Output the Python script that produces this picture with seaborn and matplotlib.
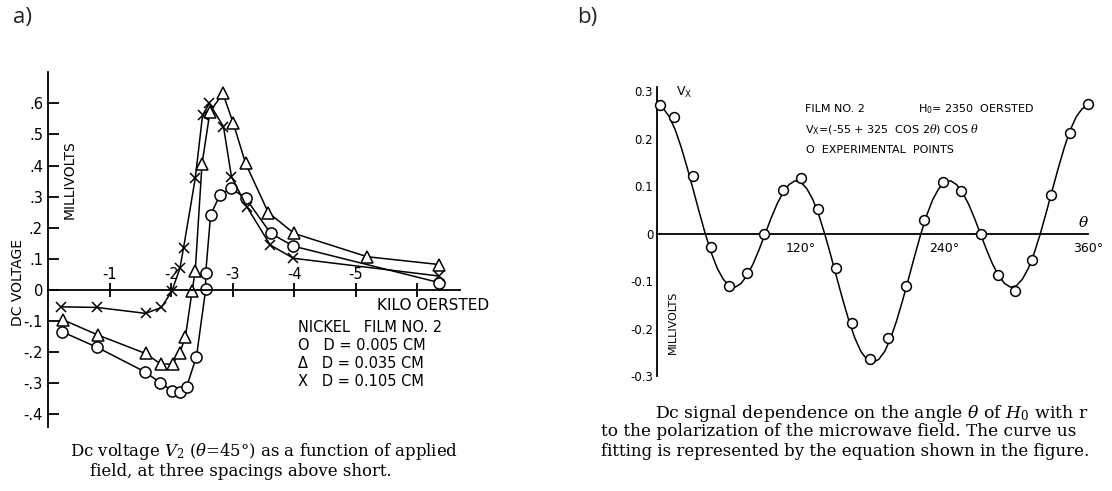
import matplotlib
matplotlib.use("Agg")
import matplotlib.pyplot as plt
import numpy as np
import pandas as pd
import seaborn as sns

# panel a: dc voltage vs applied field (kilo oersted), three spacings
field_d005 = [-0.22, -0.79, -1.57, -1.82, -2.01, -2.14, -2.25, -2.41, -2.56, -2.56,
              -2.64, -2.79, -2.98, -3.21, -3.62, -3.99, -6.36]
volt_d005 = [-0.134, -0.184, -0.263, -0.298, -0.324, -0.327, -0.311, -0.214, 0.002, 0.054,
             0.241, 0.305, 0.327, 0.295, 0.182, 0.141, 0.024]

field_d035 = [-0.24, -0.81, -1.58, -1.83, -2.02, -2.14, -2.23, -2.34, -2.39, -2.50,
              -2.63, -2.84, -3.01, -3.21, -3.58, -4.00, -5.19, -6.36]
volt_d035 = [-0.096, -0.145, -0.204, -0.238, -0.238, -0.201, -0.150, -0.002, 0.062, 0.405,
             0.573, 0.632, 0.536, 0.407, 0.249, 0.182, 0.107, 0.082]

field_d105 = [-0.20, -0.79, -1.58, -1.84, -2.01, -2.14, -2.20, -2.39, -2.51, -2.62,
              -2.85, -2.98, -3.23, -3.61, -3.99, -6.36]
volt_d105 = [-0.054, -0.056, -0.075, -0.056, -0.003, 0.070, 0.136, 0.359, 0.563, 0.600,
             0.525, 0.364, 0.268, 0.145, 0.102, 0.045]

field_ticks = [-1, -2, -3, -4, -5, -6]
field_tick_labels = ["-1", "-2", "-3", "-4", "-5", ""]
volt_ticks = [0.6, 0.5, 0.4, 0.3, 0.2, 0.1, 0.0, -0.1, -0.2, -0.3, -0.4]
volt_tick_labels = [".6", ".5", ".4", ".3", ".2", ".1", "0", "-.1", "-.2", "-.3", "-.4"]

# panel b: Vx vs angle theta
theta_points = [2, 14, 30, 45, 60, 75, 89, 105, 120, 134.5, 149, 163, 178, 193, 208,
                223, 239, 254, 270, 285, 299, 313, 329, 345, 360]
vx_points = [0.271, 0.246, 0.122, -0.028, -0.109, -0.083, 0.0, 0.093, 0.118, 0.053,
             -0.071, -0.188, -0.264, -0.219, -0.109, 0.029, 0.110, 0.090, 0.0, -0.086,
             -0.121, -0.054, 0.082, 0.213, 0.273]

theta_curve = list(range(0, 365, 5))
vx_curve = [0.270, 0.264, 0.247, 0.219, 0.182, 0.139, 0.093, 0.046, 0.001, -0.039,
            -0.072, -0.095, -0.109, -0.112, -0.104, -0.087, -0.063, -0.033, 0.000,
            0.033, 0.063, 0.087, 0.104, 0.112, 0.109, 0.095, 0.072, 0.039, -0.001,
            -0.046, -0.093, -0.139, -0.182, -0.219, -0.247, -0.264, -0.270,
            -0.264, -0.247, -0.219, -0.182, -0.139, -0.093, -0.046, -0.001, 0.039,
            0.072, 0.095, 0.109, 0.112, 0.104, 0.087, 0.063, 0.033, 0.000,
            -0.033, -0.063, -0.087, -0.104, -0.112, -0.109, -0.095, -0.072, -0.039, 0.001,
            0.046, 0.093, 0.139, 0.182, 0.219, 0.247, 0.264, 0.270]

angle_ticks = list(range(30, 390, 30))
angle_tick_labels = ["", "", "", "120°", "", "", "", "240°", "", "", "", "360°"]
vx_ticks = [0.3, 0.2, 0.1, 0.0, -0.1, -0.2, -0.3]
vx_tick_labels = ["0.3", "0.2", "0.1", "0", "-0.1", "-0.2", "-0.3"]

sns.set_style("white")
plt.rcParams["font.family"] = ["DejaVu Sans"]
plt.rcParams["mathtext.fontset"] = "dejavuserif"
plt.rcParams["text.color"] = "black"

W, H = 1112, 491
fig = plt.figure(figsize=(W / 100, H / 100), dpi=100)
SERIF = "DejaVu Serif"


def ftext(x, y, s, **kw):
    kw.setdefault("va", "center")
    fig.text(x / W, 1 - y / H, s, **kw)


def style_axes(ax, xspine, yspine):
    for side in ("right", "bottom", "top", "left"):
        ax.spines[side].set_visible(False)
    for side in (xspine, yspine):
        ax.spines[side].set_visible(True)
        ax.spines[side].set_color("black")
        ax.spines[side].set_linewidth(1.3)
        ax.spines[side].set_position(("data", 0))


# ---- panel a ----
ax_a = fig.add_axes([30 / W, 1 - 430 / H, 470 / W, 370 / H])
ax_a.patch.set_alpha(0)
series_a = [
    (field_d005, volt_d005, "o"),
    (field_d035, volt_d035, "^"),
    (field_d105, volt_d105, "x"),
]
for field, volt, marker in series_a:
    df = pd.DataFrame({"field_koe": field, "voltage_mv": volt})
    sns.lineplot(data=df, x="field_koe", y="voltage_mv", ax=ax_a, sort=False,
                 estimator=None, color="black", linewidth=1.1, marker=marker,
                 markersize=8 if marker != "x" else 7, markerfacecolor="white",
                 markeredgecolor="black", markeredgewidth=1.1)

ax_a.set_xlim(0.301, -7.353)
ax_a.set_ylim(-0.450, 0.7395)
style_axes(ax_a, "top", "left")
ax_a.spines["left"].set_bounds(-0.44, 0.70)
ax_a.spines["top"].set_bounds(0, -6.7)
ax_a.xaxis.set_ticks_position("top")
ax_a.set_xticks(field_ticks, field_tick_labels)
ax_a.tick_params(axis="x", direction="inout", length=10, width=1.3, pad=1,
                 labelsize=10.5, colors="black")
ax_a.yaxis.set_ticks_position("left")
ax_a.set_yticks(volt_ticks, volt_tick_labels)
ax_a.tick_params(axis="y", direction="in", length=8, width=1.3, pad=4,
                 labelsize=10.5, colors="black")
ax_a.set_xlabel("")
ax_a.set_ylabel("")

ftext(18, 283, "DC VOLTAGE", rotation=90, ha="center", fontsize=10)
ftext(70, 180, "MILLIVOLTS", rotation=90, ha="center", fontsize=10)
ftext(377, 305, "KILO OERSTED", ha="left", fontsize=11)
ftext(298, 327, "NICKEL   FILM NO. 2", ha="left", fontsize=10.5)
ftext(298, 346, "O   D = 0.005 CM", ha="left", fontsize=10.5)
ftext(298, 364, "Δ   D = 0.035 CM", ha="left", fontsize=10.5)
ftext(298, 382, "X   D = 0.105 CM", ha="left", fontsize=10.5)

ftext(70, 452, r"Dc voltage $V_2$ ($\theta$=45°) as a function of applied",
      ha="left", fontsize=11.9, family=SERIF)
ftext(90, 471, "field, at three spacings above short.",
      ha="left", fontsize=11.9, family=SERIF)

# ---- panel b ----
ax_b = fig.add_axes([600 / W, 1 - 400 / H, 505 / W, 340 / H])
ax_b.patch.set_alpha(0)
curve_df = pd.DataFrame({"theta_deg": theta_curve, "vx_mv": vx_curve})
points_df = pd.DataFrame({"theta_deg": theta_points, "vx_mv": vx_points})
sns.lineplot(data=curve_df, x="theta_deg", y="vx_mv", ax=ax_b, sort=False,
             estimator=None, color="black", linewidth=1.1)
sns.scatterplot(data=points_df, x="theta_deg", y="vx_mv", ax=ax_b, s=50,
                facecolor="white", edgecolor="black", linewidth=1.1, zorder=3)

ax_b.set_xlim(-47.9, 374.0)
ax_b.set_ylim(-0.3495, 0.3663)
style_axes(ax_b, "bottom", "left")
ax_b.spines["left"].set_bounds(-0.3, 0.31)
ax_b.spines["bottom"].set_bounds(0, 360)
ax_b.set_xticks(angle_ticks, angle_tick_labels)
ax_b.tick_params(axis="x", direction="inout", length=9, width=1.3, pad=1,
                 labelsize=9, colors="black")
ax_b.set_yticks(vx_ticks, vx_tick_labels)
ax_b.tick_params(axis="y", direction="in", length=8, width=1.3, pad=3,
                 labelsize=8.5, colors="black")
ax_b.set_xlabel("")
ax_b.set_ylabel("")

ftext(676, 92, r"V$_\mathsf{X}$", ha="left", fontsize=9)
ftext(1083, 222, r"$\theta$", ha="center", fontsize=11)
ftext(673, 322, "MILLIVOLTS", rotation=90, ha="center", fontsize=8)
ftext(805, 109, "FILM NO. 2", ha="left", fontsize=8)
ftext(918, 109, r"H$_\mathsf{0}$= 2350  OERSTED", ha="left", fontsize=8)
ftext(805, 130, r"V$_\mathsf{X}$=(-55 + 325  COS 2$\theta$) COS $\theta$", ha="left", fontsize=8)
ftext(806, 150, "O  EXPERIMENTAL  POINTS", ha="left", fontsize=8)

ftext(655, 413, r"Dc signal dependence on the angle $\theta$ of $H_0$ with r",
      ha="left", fontsize=12.4, family=SERIF)
ftext(601, 432, "to the polarization of the microwave field. The curve us",
      ha="left", fontsize=12.2, family=SERIF)
ftext(601, 451, "fitting is represented by the equation shown in the figure.",
      ha="left", fontsize=12.0, family=SERIF)

# panel labels
ftext(13, 17, "a)", ha="left", fontsize=16, family="Open Sans", color="#222222")
ftext(577, 17, "b)", ha="left", fontsize=16, family="Open Sans", color="#222222")

fig.savefig("out.png", dpi=100, facecolor="white")
